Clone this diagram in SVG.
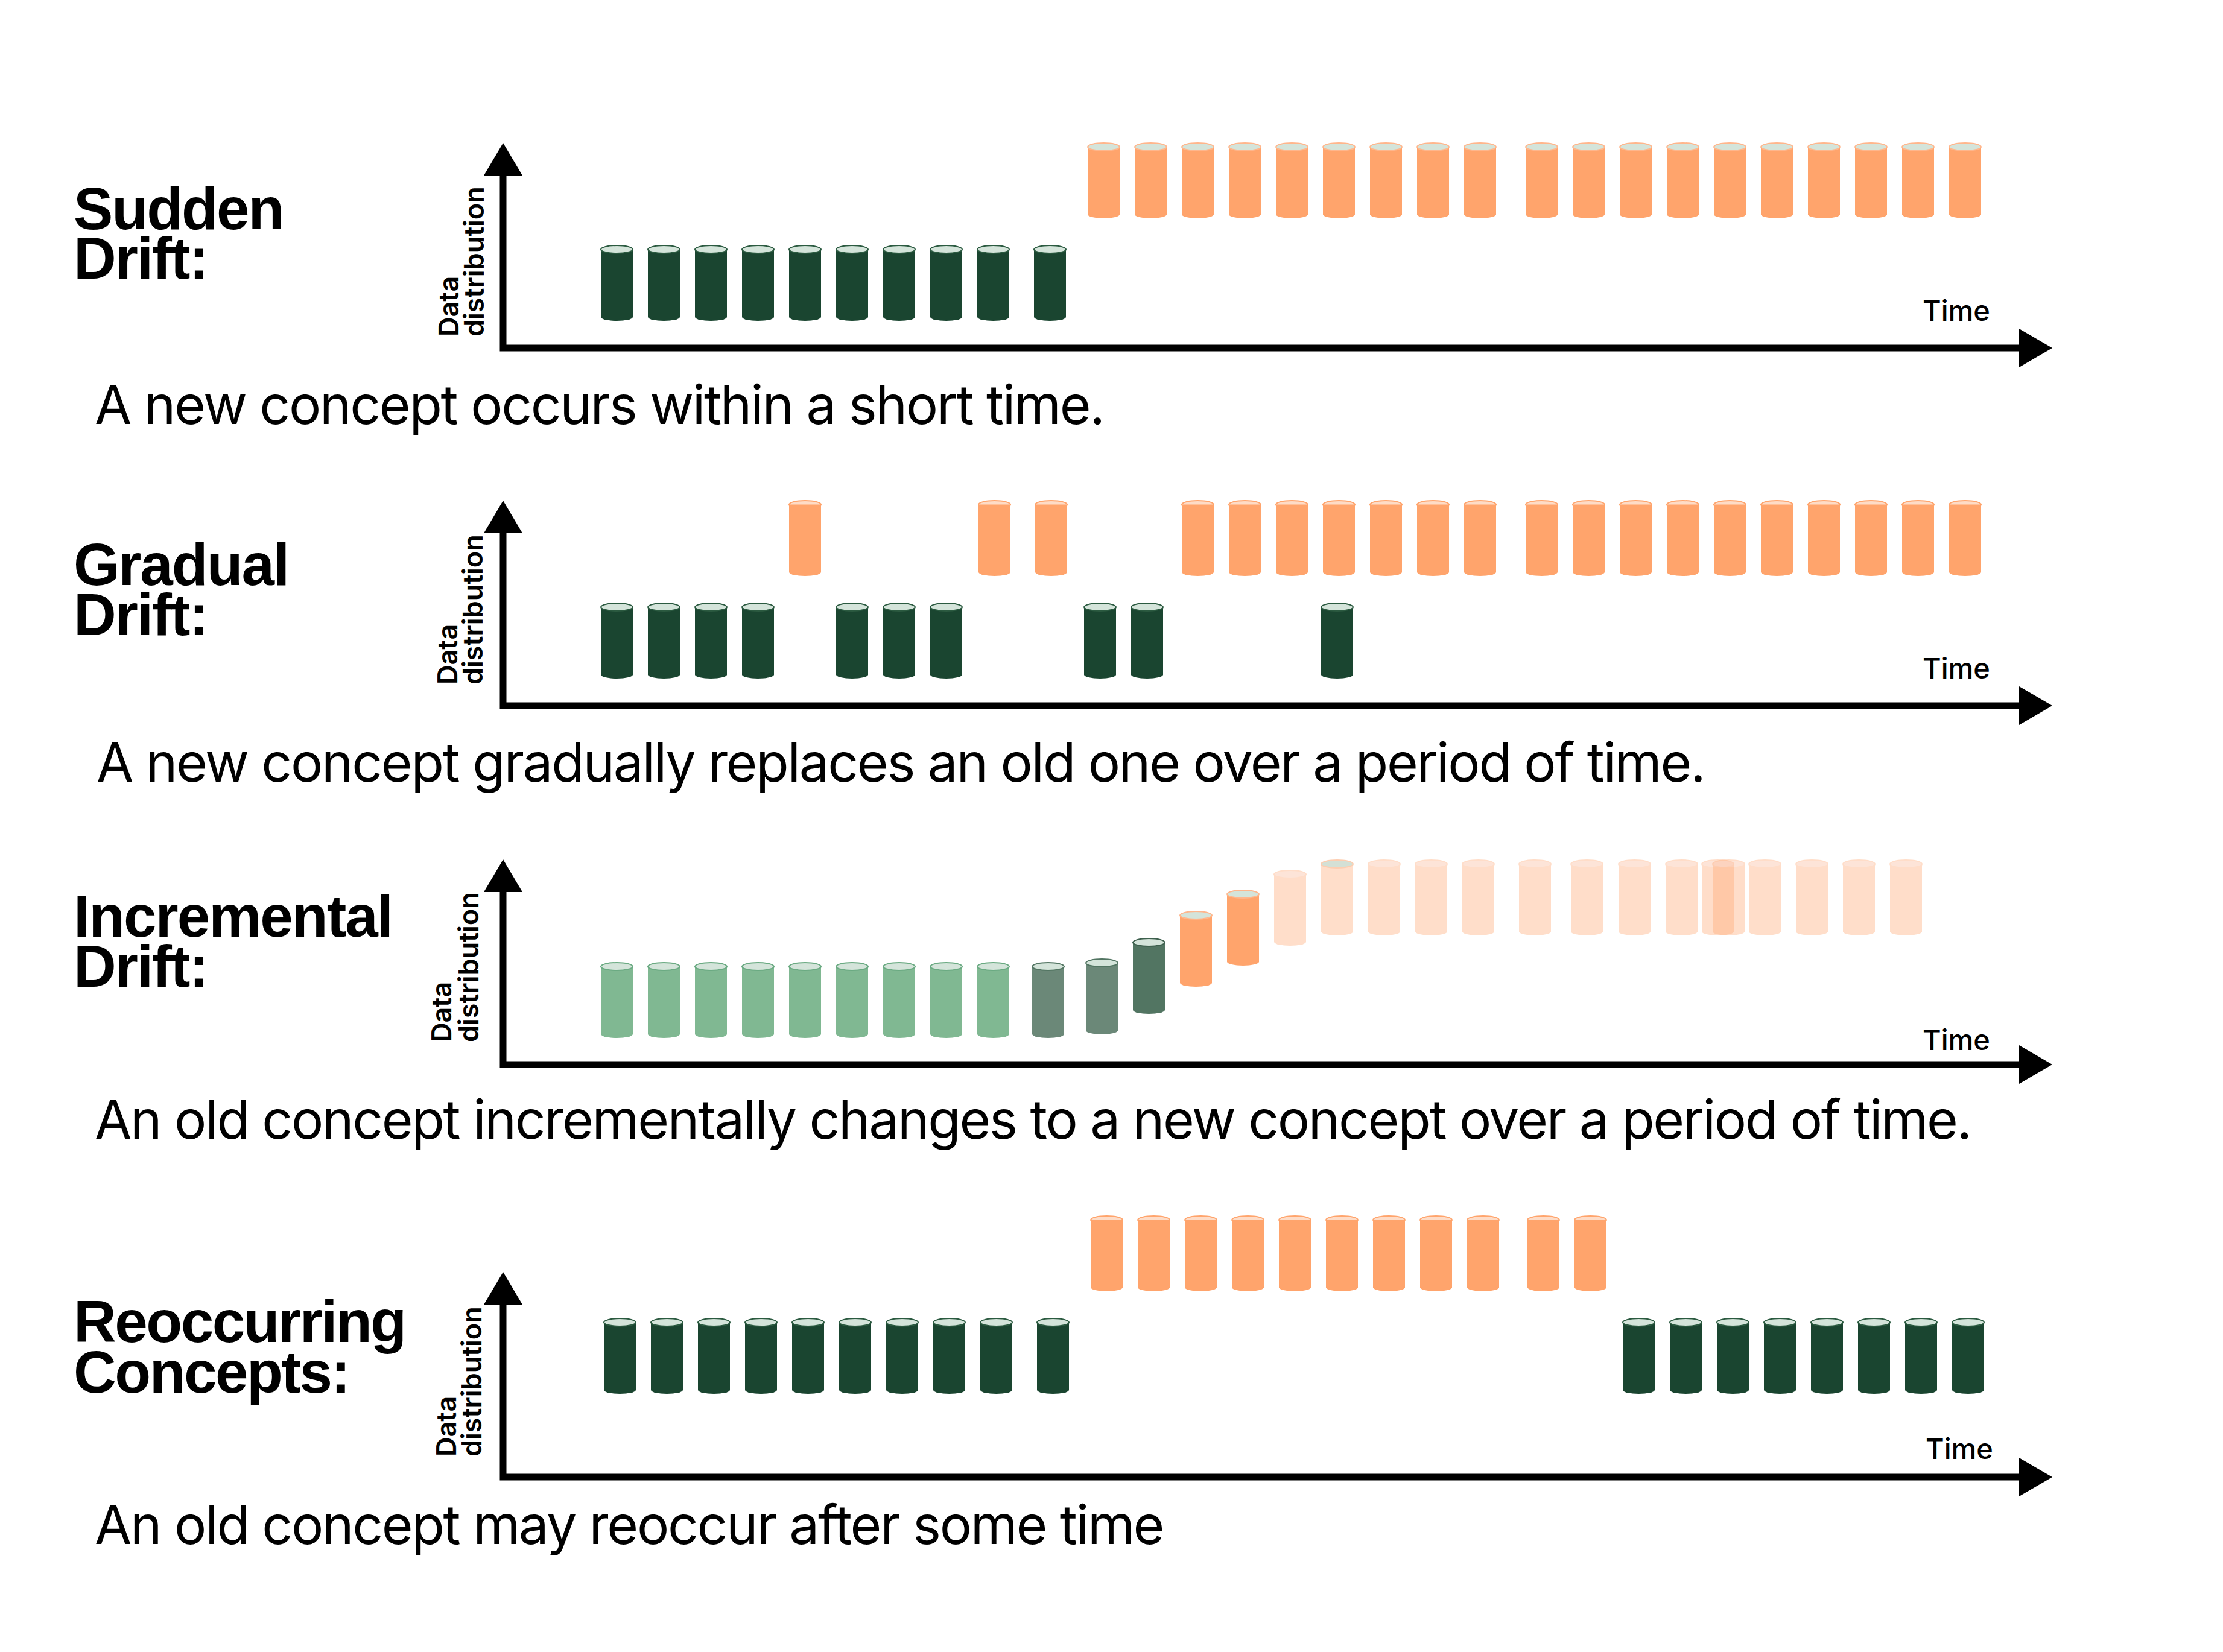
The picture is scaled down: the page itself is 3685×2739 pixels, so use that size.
<svg xmlns="http://www.w3.org/2000/svg" xmlns:xlink="http://www.w3.org/1999/xlink" width="3685" height="2739" viewBox="0 0 3685 2739">
<style>
.title{font-family:"Liberation Sans",Arial,sans-serif;font-weight:700;font-size:98px;letter-spacing:-2px;fill:#000}
.desc{font-family:Inter,"Liberation Sans",sans-serif;font-weight:400;font-size:89px;letter-spacing:-2.3px;fill:#000}
.ylab{font-family:Inter,"Liberation Sans",sans-serif;font-weight:600;font-size:45px;fill:#000}
.xlab{font-family:Inter,"Liberation Sans",sans-serif;font-weight:500;font-size:47px;fill:#000}
.ax{fill:none;stroke:#000;stroke-width:11;stroke-linejoin:miter}
.ah{fill:#000}
.t{stroke-width:2}
.dk .b{fill:#1a4530}.dk .t{fill:#d4e4da;stroke:#2b5a40}
.or .b{fill:#ffa46c}.or .t{fill:#d4e4da;stroke:#ffb68c}
.og .b{fill:#ffa46c}.og .t{fill:#fedcc7;stroke:#ffa46c}
.lg .b{fill:#80b892}.lg .t{fill:#d4e4da;stroke:#6aaa82}
.gg .b{fill:#6b8878}.gg .t{fill:#d4e4da;stroke:#527562}
.gd .b{fill:#527562}.gd .t{fill:#d4e4da;stroke:#3e604e}
.pa{opacity:.36}.pa .b{fill:#ffa46c}.pa .t{fill:#fcb795;stroke:#ffa46c}
.pg .b{fill:#ffa46c;opacity:.36}.pg .t{fill:#d4e0d5;stroke:#fdcdb0}
</style>
<defs>
<path id="cb" d="M0,6.5V118.5A26.5,6.5 0 0 0 53,118.5V6.5Z"/>
<ellipse id="ct" cx="26.5" cy="6.5" rx="26.5" ry="6.5"/>
</defs>
<rect width="3685" height="2739" fill="#fff"/>

<g id="connectors">
  <g id="axes-sudden">
    <path class="ax" d="M834,291V577H3347"/>
    <polygon class="ah" points="802,291 866,291 834,237"/>
    <polygon class="ah" points="3347,545 3347,609 3402,577"/>
  </g>
  <g id="axes-gradual" transform="translate(0,593)">
    <path class="ax" d="M834,291V577H3347"/>
    <polygon class="ah" points="802,291 866,291 834,237"/>
    <polygon class="ah" points="3347,545 3347,609 3402,577"/>
  </g>
  <g id="axes-incremental" transform="translate(0,1188)">
    <path class="ax" d="M834,291V577H3347"/>
    <polygon class="ah" points="802,291 866,291 834,237"/>
    <polygon class="ah" points="3347,545 3347,609 3402,577"/>
  </g>
  <g id="axes-reoccurring" transform="translate(0,1872)">
    <path class="ax" d="M834,291V577H3347"/>
    <polygon class="ah" points="802,291 866,291 834,237"/>
    <polygon class="ah" points="3347,545 3347,609 3402,577"/>
  </g>
</g>

<!-- Sudden -->
<g id="sudden">
  <text class="title" x="122" y="380">Sudden<tspan x="122" dy="82">Drift:</tspan></text>
  <text class="ylab" transform="translate(760,558) rotate(-90)">Data<tspan x="0" dy="42">distribution</tspan></text>
  <text class="xlab" x="3187" y="532">Time</text>
  <text class="desc" x="157" y="703">A new concept occurs within a short time.</text>
  <g id="sudden-old">
    <g class="dk" transform="translate(996,407)"><use href="#cb" class="b"/><use href="#ct" class="t"/></g>
    <g class="dk" transform="translate(1074,407)"><use href="#cb" class="b"/><use href="#ct" class="t"/></g>
    <g class="dk" transform="translate(1152,407)"><use href="#cb" class="b"/><use href="#ct" class="t"/></g>
    <g class="dk" transform="translate(1230,407)"><use href="#cb" class="b"/><use href="#ct" class="t"/></g>
    <g class="dk" transform="translate(1308,407)"><use href="#cb" class="b"/><use href="#ct" class="t"/></g>
    <g class="dk" transform="translate(1386,407)"><use href="#cb" class="b"/><use href="#ct" class="t"/></g>
    <g class="dk" transform="translate(1464,407)"><use href="#cb" class="b"/><use href="#ct" class="t"/></g>
    <g class="dk" transform="translate(1542,407)"><use href="#cb" class="b"/><use href="#ct" class="t"/></g>
    <g class="dk" transform="translate(1620,407)"><use href="#cb" class="b"/><use href="#ct" class="t"/></g>
    <g class="dk" transform="translate(1714,407)"><use href="#cb" class="b"/><use href="#ct" class="t"/></g>
  </g>
  <g id="sudden-new">
    <g class="or" transform="translate(1803,237)"><use href="#cb" class="b"/><use href="#ct" class="t"/></g>
    <g class="or" transform="translate(1881,237)"><use href="#cb" class="b"/><use href="#ct" class="t"/></g>
    <g class="or" transform="translate(1959,237)"><use href="#cb" class="b"/><use href="#ct" class="t"/></g>
    <g class="or" transform="translate(2037,237)"><use href="#cb" class="b"/><use href="#ct" class="t"/></g>
    <g class="or" transform="translate(2115,237)"><use href="#cb" class="b"/><use href="#ct" class="t"/></g>
    <g class="or" transform="translate(2193,237)"><use href="#cb" class="b"/><use href="#ct" class="t"/></g>
    <g class="or" transform="translate(2271,237)"><use href="#cb" class="b"/><use href="#ct" class="t"/></g>
    <g class="or" transform="translate(2349,237)"><use href="#cb" class="b"/><use href="#ct" class="t"/></g>
    <g class="or" transform="translate(2427,237)"><use href="#cb" class="b"/><use href="#ct" class="t"/></g>
    <g class="or" transform="translate(2529,237)"><use href="#cb" class="b"/><use href="#ct" class="t"/></g>
    <g class="or" transform="translate(2607,237)"><use href="#cb" class="b"/><use href="#ct" class="t"/></g>
    <g class="or" transform="translate(2685,237)"><use href="#cb" class="b"/><use href="#ct" class="t"/></g>
    <g class="or" transform="translate(2763,237)"><use href="#cb" class="b"/><use href="#ct" class="t"/></g>
    <g class="or" transform="translate(2841,237)"><use href="#cb" class="b"/><use href="#ct" class="t"/></g>
    <g class="or" transform="translate(2919,237)"><use href="#cb" class="b"/><use href="#ct" class="t"/></g>
    <g class="or" transform="translate(2997,237)"><use href="#cb" class="b"/><use href="#ct" class="t"/></g>
    <g class="or" transform="translate(3075,237)"><use href="#cb" class="b"/><use href="#ct" class="t"/></g>
    <g class="or" transform="translate(3153,237)"><use href="#cb" class="b"/><use href="#ct" class="t"/></g>
    <g class="or" transform="translate(3231,237)"><use href="#cb" class="b"/><use href="#ct" class="t"/></g>
  </g>
</g>

<!-- Gradual -->
<g id="gradual">
  <text class="title" x="122" y="970">Gradual<tspan x="122" dy="83">Drift:</tspan></text>
  <text class="ylab" transform="translate(758,1135) rotate(-90)">Data<tspan x="0" dy="42">distribution</tspan></text>
  <text class="xlab" x="3187" y="1125">Time</text>
  <text class="desc" x="160" y="1296">A new concept gradually replaces an old one over a period of time.</text>
  <g id="gradual-old">
    <g class="dk" transform="translate(996,1000)"><use href="#cb" class="b"/><use href="#ct" class="t"/></g>
    <g class="dk" transform="translate(1074,1000)"><use href="#cb" class="b"/><use href="#ct" class="t"/></g>
    <g class="dk" transform="translate(1152,1000)"><use href="#cb" class="b"/><use href="#ct" class="t"/></g>
    <g class="dk" transform="translate(1230,1000)"><use href="#cb" class="b"/><use href="#ct" class="t"/></g>
    <g class="dk" transform="translate(1386,1000)"><use href="#cb" class="b"/><use href="#ct" class="t"/></g>
    <g class="dk" transform="translate(1464,1000)"><use href="#cb" class="b"/><use href="#ct" class="t"/></g>
    <g class="dk" transform="translate(1542,1000)"><use href="#cb" class="b"/><use href="#ct" class="t"/></g>
    <g class="dk" transform="translate(1797,1000)"><use href="#cb" class="b"/><use href="#ct" class="t"/></g>
    <g class="dk" transform="translate(1875,1000)"><use href="#cb" class="b"/><use href="#ct" class="t"/></g>
    <g class="dk" transform="translate(2190,1000)"><use href="#cb" class="b"/><use href="#ct" class="t"/></g>
  </g>
  <g id="gradual-new">
    <g class="og" transform="translate(1308,830)"><use href="#ct" class="t"/><use href="#cb" class="b"/></g>
    <g class="og" transform="translate(1622,830)"><use href="#ct" class="t"/><use href="#cb" class="b"/></g>
    <g class="og" transform="translate(1716,830)"><use href="#ct" class="t"/><use href="#cb" class="b"/></g>
    <g class="og" transform="translate(1959,830)"><use href="#ct" class="t"/><use href="#cb" class="b"/></g>
    <g class="og" transform="translate(2037,830)"><use href="#ct" class="t"/><use href="#cb" class="b"/></g>
    <g class="og" transform="translate(2115,830)"><use href="#ct" class="t"/><use href="#cb" class="b"/></g>
    <g class="og" transform="translate(2193,830)"><use href="#ct" class="t"/><use href="#cb" class="b"/></g>
    <g class="og" transform="translate(2271,830)"><use href="#ct" class="t"/><use href="#cb" class="b"/></g>
    <g class="og" transform="translate(2349,830)"><use href="#ct" class="t"/><use href="#cb" class="b"/></g>
    <g class="og" transform="translate(2427,830)"><use href="#ct" class="t"/><use href="#cb" class="b"/></g>
    <g class="og" transform="translate(2529,830)"><use href="#ct" class="t"/><use href="#cb" class="b"/></g>
    <g class="og" transform="translate(2607,830)"><use href="#ct" class="t"/><use href="#cb" class="b"/></g>
    <g class="og" transform="translate(2685,830)"><use href="#ct" class="t"/><use href="#cb" class="b"/></g>
    <g class="og" transform="translate(2763,830)"><use href="#ct" class="t"/><use href="#cb" class="b"/></g>
    <g class="og" transform="translate(2841,830)"><use href="#ct" class="t"/><use href="#cb" class="b"/></g>
    <g class="og" transform="translate(2919,830)"><use href="#ct" class="t"/><use href="#cb" class="b"/></g>
    <g class="og" transform="translate(2997,830)"><use href="#ct" class="t"/><use href="#cb" class="b"/></g>
    <g class="og" transform="translate(3075,830)"><use href="#ct" class="t"/><use href="#cb" class="b"/></g>
    <g class="og" transform="translate(3153,830)"><use href="#ct" class="t"/><use href="#cb" class="b"/></g>
    <g class="og" transform="translate(3231,830)"><use href="#ct" class="t"/><use href="#cb" class="b"/></g>
  </g>
</g>

<!-- Incremental -->
<g id="incremental">
  <text class="title" x="122" y="1553">Incremental<tspan x="122" dy="83">Drift:</tspan></text>
  <text class="ylab" transform="translate(748,1728) rotate(-90)">Data<tspan x="0" dy="45">distribution</tspan></text>
  <text class="xlab" x="3187" y="1741">Time</text>
  <text class="desc" x="157" y="1888">An old concept incrementally changes to a new concept over a period of time.</text>
  <g id="incremental-old">
    <g class="lg" transform="translate(996,1596)"><use href="#cb" class="b"/><use href="#ct" class="t"/></g>
    <g class="lg" transform="translate(1074,1596)"><use href="#cb" class="b"/><use href="#ct" class="t"/></g>
    <g class="lg" transform="translate(1152,1596)"><use href="#cb" class="b"/><use href="#ct" class="t"/></g>
    <g class="lg" transform="translate(1230,1596)"><use href="#cb" class="b"/><use href="#ct" class="t"/></g>
    <g class="lg" transform="translate(1308,1596)"><use href="#cb" class="b"/><use href="#ct" class="t"/></g>
    <g class="lg" transform="translate(1386,1596)"><use href="#cb" class="b"/><use href="#ct" class="t"/></g>
    <g class="lg" transform="translate(1464,1596)"><use href="#cb" class="b"/><use href="#ct" class="t"/></g>
    <g class="lg" transform="translate(1542,1596)"><use href="#cb" class="b"/><use href="#ct" class="t"/></g>
    <g class="lg" transform="translate(1620,1596)"><use href="#cb" class="b"/><use href="#ct" class="t"/></g>
  </g>
  <g id="incremental-transition">
    <g class="gg" transform="translate(1711,1596)"><use href="#cb" class="b"/><use href="#ct" class="t"/></g>
    <g class="gg" transform="translate(1800,1590)"><use href="#cb" class="b"/><use href="#ct" class="t"/></g>
    <g class="gd" transform="translate(1878,1556)"><use href="#cb" class="b"/><use href="#ct" class="t"/></g>
    <g class="or" transform="translate(1956,1511)"><use href="#cb" class="b"/><use href="#ct" class="t"/></g>
    <g class="or" transform="translate(2034,1476)"><use href="#cb" class="b"/><use href="#ct" class="t"/></g>
  </g>
  <g id="incremental-new">
    <g class="pa" transform="translate(2112,1443)"><use href="#cb" class="b"/><use href="#ct" class="t"/></g>
    <g class="pg" transform="translate(2190,1426)"><use href="#cb" class="b"/><use href="#ct" class="t"/></g>
    <g class="pa" transform="translate(2268,1426)"><use href="#cb" class="b"/><use href="#ct" class="t"/></g>
    <g class="pa" transform="translate(2346,1426)"><use href="#cb" class="b"/><use href="#ct" class="t"/></g>
    <g class="pa" transform="translate(2424,1426)"><use href="#cb" class="b"/><use href="#ct" class="t"/></g>
    <g class="pa" transform="translate(2518,1426)"><use href="#cb" class="b"/><use href="#ct" class="t"/></g>
    <g class="pa" transform="translate(2604,1426)"><use href="#cb" class="b"/><use href="#ct" class="t"/></g>
    <g class="pa" transform="translate(2683,1426)"><use href="#cb" class="b"/><use href="#ct" class="t"/></g>
    <g class="pa" transform="translate(2761,1426)"><use href="#cb" class="b"/><use href="#ct" class="t"/></g>
    <g class="pa" transform="translate(2821,1426)"><use href="#cb" class="b"/><use href="#ct" class="t"/></g>
    <g class="pa" transform="translate(2839,1426)"><use href="#cb" class="b"/><use href="#ct" class="t"/></g>
    <g class="pa" transform="translate(2899,1426)"><use href="#cb" class="b"/><use href="#ct" class="t"/></g>
    <g class="pa" transform="translate(2977,1426)"><use href="#cb" class="b"/><use href="#ct" class="t"/></g>
    <g class="pa" transform="translate(3055,1426)"><use href="#cb" class="b"/><use href="#ct" class="t"/></g>
    <g class="pa" transform="translate(3133,1426)"><use href="#cb" class="b"/><use href="#ct" class="t"/></g>
  </g>
</g>

<!-- Reoccurring -->
<g id="reoccurring">
  <text class="title" x="122" y="2225" style="letter-spacing:-2.5px">Reoccurring<tspan x="122" dy="84">Concepts:</tspan></text>
  <text class="ylab" transform="translate(756,2415) rotate(-90)">Data<tspan x="0" dy="42">distribution</tspan></text>
  <text class="xlab" x="3192" y="2419">Time</text>
  <text class="desc" x="157" y="2560">An old concept may reoccur after some time</text>
  <g id="reoccurring-old">
    <g class="dk" transform="translate(1001,2186)"><use href="#cb" class="b"/><use href="#ct" class="t"/></g>
    <g class="dk" transform="translate(1079,2186)"><use href="#cb" class="b"/><use href="#ct" class="t"/></g>
    <g class="dk" transform="translate(1157,2186)"><use href="#cb" class="b"/><use href="#ct" class="t"/></g>
    <g class="dk" transform="translate(1235,2186)"><use href="#cb" class="b"/><use href="#ct" class="t"/></g>
    <g class="dk" transform="translate(1313,2186)"><use href="#cb" class="b"/><use href="#ct" class="t"/></g>
    <g class="dk" transform="translate(1391,2186)"><use href="#cb" class="b"/><use href="#ct" class="t"/></g>
    <g class="dk" transform="translate(1469,2186)"><use href="#cb" class="b"/><use href="#ct" class="t"/></g>
    <g class="dk" transform="translate(1547,2186)"><use href="#cb" class="b"/><use href="#ct" class="t"/></g>
    <g class="dk" transform="translate(1625,2186)"><use href="#cb" class="b"/><use href="#ct" class="t"/></g>
    <g class="dk" transform="translate(1719,2186)"><use href="#cb" class="b"/><use href="#ct" class="t"/></g>
  </g>
  <g id="reoccurring-new">
    <g class="og" transform="translate(1808,2016)"><use href="#ct" class="t"/><use href="#cb" class="b"/></g>
    <g class="og" transform="translate(1886,2016)"><use href="#ct" class="t"/><use href="#cb" class="b"/></g>
    <g class="og" transform="translate(1964,2016)"><use href="#ct" class="t"/><use href="#cb" class="b"/></g>
    <g class="og" transform="translate(2042,2016)"><use href="#ct" class="t"/><use href="#cb" class="b"/></g>
    <g class="og" transform="translate(2120,2016)"><use href="#ct" class="t"/><use href="#cb" class="b"/></g>
    <g class="og" transform="translate(2198,2016)"><use href="#ct" class="t"/><use href="#cb" class="b"/></g>
    <g class="og" transform="translate(2276,2016)"><use href="#ct" class="t"/><use href="#cb" class="b"/></g>
    <g class="og" transform="translate(2354,2016)"><use href="#ct" class="t"/><use href="#cb" class="b"/></g>
    <g class="og" transform="translate(2432,2016)"><use href="#ct" class="t"/><use href="#cb" class="b"/></g>
    <g class="og" transform="translate(2532,2016)"><use href="#ct" class="t"/><use href="#cb" class="b"/></g>
    <g class="og" transform="translate(2610,2016)"><use href="#ct" class="t"/><use href="#cb" class="b"/></g>
  </g>
  <g id="reoccurring-old-again">
    <g class="dk" transform="translate(2690,2186)"><use href="#cb" class="b"/><use href="#ct" class="t"/></g>
    <g class="dk" transform="translate(2768,2186)"><use href="#cb" class="b"/><use href="#ct" class="t"/></g>
    <g class="dk" transform="translate(2846,2186)"><use href="#cb" class="b"/><use href="#ct" class="t"/></g>
    <g class="dk" transform="translate(2924,2186)"><use href="#cb" class="b"/><use href="#ct" class="t"/></g>
    <g class="dk" transform="translate(3002,2186)"><use href="#cb" class="b"/><use href="#ct" class="t"/></g>
    <g class="dk" transform="translate(3080,2186)"><use href="#cb" class="b"/><use href="#ct" class="t"/></g>
    <g class="dk" transform="translate(3158,2186)"><use href="#cb" class="b"/><use href="#ct" class="t"/></g>
    <g class="dk" transform="translate(3236,2186)"><use href="#cb" class="b"/><use href="#ct" class="t"/></g>
  </g>
</g>
</svg>
